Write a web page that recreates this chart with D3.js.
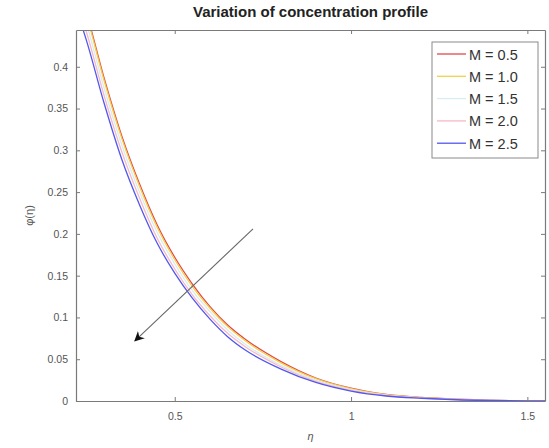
<!DOCTYPE html>
<html>
<head>
<meta charset="utf-8">
<script src="https://cdn.jsdelivr.net/npm/d3@7"></script>
<style>
  body { margin: 0; background: #fff; }
  svg { display: block; font-family: "Liberation Sans", Arial, sans-serif; }
</style>
</head>
<body>
<div id="chart"></div>
<script>
// data
const eta = [0.22, 0.25, 0.3, 0.35, 0.4, 0.45, 0.5, 0.55, 0.6, 0.65, 0.7, 0.8, 0.9, 1.0, 1.1, 1.2, 1.3, 1.4, 1.5, 1.55];
const phiM05 = [0.503, 0.464, 0.386, 0.317, 0.260, 0.211, 0.172, 0.140, 0.113, 0.091, 0.074, 0.0475, 0.0275, 0.0153, 0.0078, 0.0042, 0.0021, 0.0008, 0.0002, 0];
const phiM10 = [0.500, 0.461, 0.383, 0.314, 0.257, 0.208, 0.169, 0.137, 0.111, 0.089, 0.072, 0.046, 0.0267, 0.0147, 0.0075, 0.004, 0.002, 0.0008, 0.0002, 0];
const phiM15 = [0.490, 0.451, 0.374, 0.306, 0.250, 0.202, 0.164, 0.132, 0.107, 0.085, 0.068, 0.043, 0.025, 0.0137, 0.007, 0.0037, 0.0018, 0.0007, 0.0002, 0];
const phiM20 = [0.480, 0.441, 0.365, 0.298, 0.243, 0.195, 0.158, 0.127, 0.102, 0.081, 0.065, 0.041, 0.0235, 0.0128, 0.0066, 0.0035, 0.0017, 0.0007, 0.0001, 0];
const phiM25 = [0.470, 0.431, 0.356, 0.289, 0.235, 0.189, 0.153, 0.123, 0.098, 0.077, 0.061, 0.0385, 0.0222, 0.0119, 0.006, 0.0033, 0.0015, 0.0006, 0.0001, 0];
const labels = ["M = 0.5", "M = 1.0", "M = 1.5", "M = 2.0", "M = 2.5"];
const colors = ["#e0474c", "#f2d04a", "#d8ecf2", "#f6b9c6", "#5257ee"];
const xTicks = [0.5, 1, 1.5];
const yTicks = [0, 0.05, 0.1, 0.15, 0.2, 0.25, 0.3, 0.35, 0.4];
// arrow annotation (start, end) in data units
const arrowEta = [0.722, 0.387];
const arrowPhi = [0.206, 0.072];

const series = [phiM05, phiM10, phiM15, phiM20, phiM25].map((vals, i) => ({
    label: labels[i],
    color: colors[i],
    points: eta.map((e, j) => ({x: e, y: vals[j]}))
}));

// page setup
const width = 549;
const height = 448;
const margin = {top: 30, right: 4, bottom: 47, left: 76};
const plotW = width - margin.left - margin.right;
const plotH = height - margin.top - margin.bottom;

const svg = d3.select("#chart").append("svg")
    .attr("width", width)
    .attr("height", height);

const x = d3.scaleLinear().domain([0.22, 1.55]).range([0, plotW]);
const y = d3.scaleLinear().domain([0, 0.444]).range([plotH, 0]);

const g = svg.append("g")
    .attr("transform", `translate(${margin.left},${margin.top})`);

svg.append("defs").append("clipPath").attr("id", "clip")
    .append("rect").attr("width", plotW).attr("height", plotH);

svg.select("defs").append("marker")
    .attr("id", "head")
    .attr("viewBox", "0 0 10 10")
    .attr("refX", 9).attr("refY", 5)
    .attr("markerWidth", 10).attr("markerHeight", 10)
    .attr("markerUnits", "userSpaceOnUse")
    .attr("orient", "auto")
    .append("path")
    .attr("d", "M0,0 L10,5 L0,10 L3,5 Z")
    .attr("fill", "#111");

// curves, plotted in order so later ones sit on top
const line = d3.line()
    .x(d => x(d.x))
    .y(d => y(d.y))
    .curve(d3.curveMonotoneX);

g.append("g").attr("clip-path", "url(#clip)")
    .selectAll("path")
    .data(series)
    .enter()
    .append("path")
    .attr("d", d => line(d.points))
    .attr("fill", "none")
    .attr("stroke", d => d.color)
    .attr("stroke-width", 1.3);

// axes, MATLAB style: ticks inside, box on
const axisColor = "#7a7a7a";
const fmt = d => d3.format("~g")(d);

const xAxis = g.append("g")
    .attr("transform", `translate(0,${plotH})`)
    .call(d3.axisBottom(x).tickValues(xTicks).tickSizeInner(-4).tickSizeOuter(0).tickPadding(12).tickFormat(fmt));
const yAxis = g.append("g")
    .call(d3.axisLeft(y).tickValues(yTicks).tickSizeInner(-4).tickSizeOuter(0).tickPadding(8).tickFormat(fmt));
const xTop = g.append("g")
    .call(d3.axisTop(x).tickValues(xTicks).tickSizeInner(-4).tickSizeOuter(0).tickFormat(""));
const yRight = g.append("g")
    .attr("transform", `translate(${plotW},0)`)
    .call(d3.axisRight(y).tickValues(yTicks).tickSizeInner(-4).tickSizeOuter(0).tickFormat(""));

[xAxis, yAxis, xTop, yRight].forEach(a => {
    a.select(".domain").attr("stroke", axisColor).attr("stroke-width", 1.2);
    a.selectAll(".tick line").attr("stroke", axisColor);
    a.selectAll("text").attr("fill", "#555").attr("font-size", "10.5px");
});

// arrow
g.append("line")
    .attr("x1", x(arrowEta[0]))
    .attr("y1", y(arrowPhi[0]))
    .attr("x2", x(arrowEta[1]))
    .attr("y2", y(arrowPhi[1]))
    .attr("stroke", "#666")
    .attr("stroke-width", 1.1)
    .attr("marker-end", "url(#head)");

// legend
const legend = svg.append("g").attr("transform", "translate(432,42)");
legend.append("rect")
    .attr("width", 106)
    .attr("height", 116)
    .attr("fill", "#fff")
    .attr("stroke", "#8a8a8a")
    .attr("stroke-width", 1);

const rows = legend.selectAll(".row")
    .data(series)
    .enter()
    .append("g")
    .attr("transform", (d, i) => `translate(0,${12 + i * 22.3})`);

rows.append("line")
    .attr("x1", 5).attr("x2", 34)
    .attr("stroke", d => d.color)
    .attr("stroke-width", 1.3);

rows.append("text")
    .attr("x", 37)
    .attr("y", 5.5)
    .attr("font-size", "14.5px")
    .attr("fill", "#333")
    .text(d => d.label);

// title and labels
svg.append("text")
    .attr("x", margin.left + plotW / 2)
    .attr("y", 17)
    .attr("text-anchor", "middle")
    .attr("font-size", "15px")
    .attr("font-weight", "bold")
    .attr("fill", "#222")
    .text("Variation of concentration profile");

svg.append("text")
    .attr("x", margin.left + plotW / 2)
    .attr("y", 440)
    .attr("text-anchor", "middle")
    .attr("font-size", "11px")
    .attr("font-style", "italic")
    .attr("fill", "#555")
    .text("η");

svg.append("text")
    .attr("transform", `translate(33,${margin.top + plotH / 2}) rotate(-90)`)
    .attr("text-anchor", "middle")
    .attr("font-size", "11px")
    .attr("fill", "#555")
    .text("φ(η)");
</script>
</body>
</html>
